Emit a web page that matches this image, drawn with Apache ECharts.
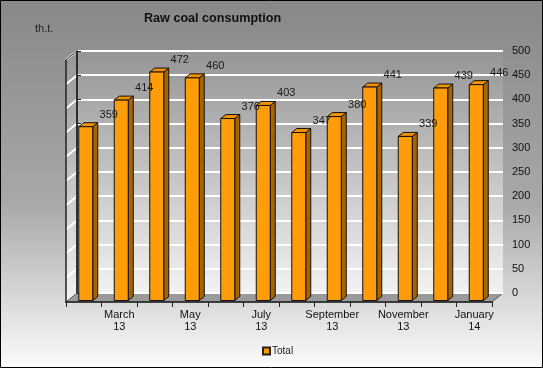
<!DOCTYPE html>
<html><head><meta charset="utf-8">
<script src="https://cdn.jsdelivr.net/npm/echarts@6/dist/echarts.min.js"></script>
<style>html,body{margin:0;padding:0;background:#fff}#c{width:543px;height:368px}</style>
</head><body><div id="c"></div>
<script>
const categories = ['February\n13','March\n13','April\n13','May\n13','June\n13','July\n13','August\n13','September\n13','October\n13','November\n13','December\n13','January\n14'];
const totalValues = [359, 414, 472, 460, 376, 403, 347, 380, 441, 339, 439, 446];
const yMin = 0, yMax = 500, yStep = 50;
const seriesName = 'Total';
const titleText = 'Raw coal consumption';
const unitText = 'th.t.';

const FONT = 'Arial, "Liberation Sans", sans-serif';
const DX = -11, DY = 9; // back wall -> front plane
const chart = echarts.init(document.getElementById('c'));
const LG = echarts.graphic.LinearGradient;

function renderWall(params, api) {
  const p00 = api.coord([0, yMin]), p10 = api.coord([1, yMin]);
  const p01 = api.coord([0, yMax]), p11 = api.coord([1, yMax]);
  const f = p => [p[0] + DX, p[1] + DY];
  const children = [];
  children.push({type:'rect', shape:{x:p01[0], y:p01[1], width:p11[0]-p01[0], height:p00[1]-p01[1]},
    style:{fill:new LG(0,0,0,1,[{offset:0,color:'#959595'},{offset:1,color:'#f2f2f2'}])}});
  children.push({type:'polygon', shape:{points:[p01, p00, f(p00), f(p01)]},
    style:{fill:new LG(0,0,0,1,[{offset:0,color:'#959595'},{offset:1,color:'#f2f2f2'}])}});
  for (let v = yMin; v <= yMax; v += yStep) {
    const p = api.coord([0, v]);
    children.push({type:'line', shape:{x1:p[0], y1:p[1], x2:p[0]+DX, y2:p[1]+DY}, style:{stroke:'#ffffff', lineWidth:2}});
  }
  children.push({type:'polygon', shape:{points:[p00, p10, f(p10), f(p00)]}, style:{fill:'#9a9a9a', stroke:'#555', lineWidth:1}});
  children.push({type:'line', shape:{x1:p01[0], y1:p01[1], x2:p00[0], y2:p00[1]}, style:{stroke:'#333', lineWidth:1.5}});
  const a = f(p01), b = f(p00);
  children.push({type:'line', shape:{x1:a[0], y1:a[1], x2:b[0], y2:b[1]+1}, style:{stroke:'#222', lineWidth:1.5}});
  children.push({type:'line', shape:{x1:a[0], y1:a[1], x2:p01[0], y2:p01[1]}, style:{stroke:'#222', lineWidth:1}});
  return {type:'group', children};
}

function renderBar(params, api) {
  const i = api.value(0), v = api.value(1);
  const t = api.coord([i, v]), b = api.coord([i, 0]);
  const cx = t[0] + 2, ty = t[1] - 1.5, by = b[1] - 1.5;
  const hw = 7, ddx = 5, ddy = -4;
  return {type:'group', children:[
    {type:'polygon', shape:{points:[[cx+hw,ty],[cx+hw+ddx,ty+ddy],[cx+hw+ddx,by+ddy],[cx+hw,by]]},
      style:{fill:'#a86400', stroke:'#111', lineWidth:1}},
    {type:'polygon', shape:{points:[[cx-hw,ty],[cx-hw+ddx,ty+ddy],[cx+hw+ddx,ty+ddy],[cx+hw,ty]]},
      style:{fill:'#f39200', stroke:'#111', lineWidth:1}},
    {type:'rect', shape:{x:cx-hw, y:ty, width:2*hw, height:by-ty},
      style:{fill:'#ff9c0a', stroke:'#111', lineWidth:1}},
    {type:'text', x:cx+23, y:ty-12, z2:10,
      style:{text:String(v), fill:'#1a1a1a', font:'11px ' + FONT, align:'center', verticalAlign:'middle'}}
  ]};
}

const option = {
  animation:false,
  backgroundColor:new LG(0,0,0,1,[{offset:0,color:'#888888'},{offset:0.55,color:'#a8a8a8'},{offset:1,color:'#fbfbfb'}]),
  textStyle:{fontFamily:FONT},
  title:{text:titleText, left:144, top:12, padding:0,
    textStyle:{fontSize:12.6, fontWeight:'bold', color:'#111', fontFamily:FONT}},
  legend:{data:[seriesName], left:262, top:346, padding:0, itemWidth:7, itemHeight:7, itemGap:2,
    icon:'rect', textStyle:{fontSize:10, color:'#222', fontFamily:FONT, padding:[0,0,0,-3]}},
  grid:[
    {left:77, right:40, top:51, bottom:75},
    {left:66, right:51, top:60, bottom:66}
  ],
  xAxis:[
    {gridIndex:0, type:'value', min:0, max:1, show:false},
    {gridIndex:1, type:'category', data:categories, boundaryGap:true,
      axisLine:{lineStyle:{color:'#222', width:1.5}},
      axisTick:{show:true, interval:0, length:5, lineStyle:{color:'#222'}},
      axisLabel:{interval:(idx)=>idx % 2 === 1, fontSize:11, color:'#111', margin:7, lineHeight:12, fontFamily:FONT}}
  ],
  yAxis:[
    {gridIndex:0, type:'value', position:'right', min:yMin, max:yMax, interval:yStep,
      axisLine:{show:true, lineStyle:{color:'#222', width:1.5}},
      axisTick:{show:true, length:4, lineStyle:{color:'#222'}},
      axisLabel:{fontSize:11, color:'#111', margin:9, fontFamily:FONT},
      splitLine:{show:true, lineStyle:{color:'#ffffff', width:2}}},
    {gridIndex:1, type:'value', min:yMin, max:yMax, show:false}
  ],
  series:[
    {type:'custom', name:'wall', xAxisIndex:0, yAxisIndex:0, z:-1, silent:true,
      renderItem:renderWall, data:[[0]]},
    {type:'custom', name:seriesName, xAxisIndex:1, yAxisIndex:1, z:3,
      itemStyle:{color:'#ff9900', borderColor:'#222', borderWidth:1},
      renderItem:renderBar, data:totalValues.map((v,i)=>[i,v])}
  ],
  graphic:[
    {type:'text', left:35, top:23, style:{text:unitText, font:'11px ' + FONT, fill:'#222'}},
    {type:'rect', shape:{x:0.5, y:0.5, width:542, height:367}, style:{fill:null, stroke:'#000', lineWidth:1}, z:100, silent:true}
  ]
};
chart.setOption(option);
</script></body></html>
